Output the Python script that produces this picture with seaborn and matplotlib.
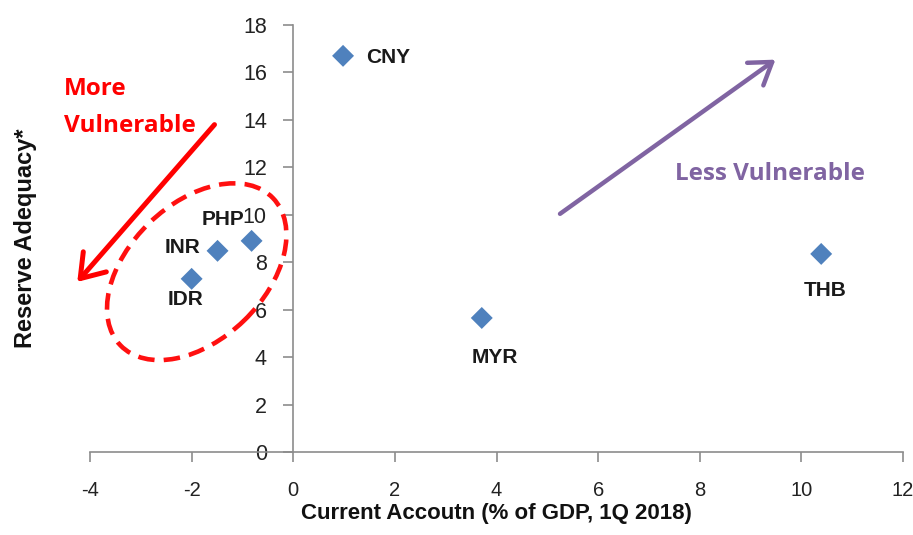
import matplotlib
matplotlib.use("Agg")
import matplotlib.pyplot as plt
import pandas as pd
import seaborn as sns
from matplotlib.patches import Ellipse
from matplotlib.transforms import IdentityTransform, ScaledTranslation

# Current account balance vs. reserve adequacy by currency
currencies = ["CNY", "PHP", "INR", "IDR", "MYR", "THB"]
current_account = [0.98, -0.82, -1.49, -2.0, 3.71, 10.39]
reserve_adequacy = [16.7, 8.9, 8.48, 7.3, 5.65, 8.35]

x_ticks = [-4, -2, 0, 2, 4, 6, 8, 10, 12]
y_ticks = [0, 2, 4, 6, 8, 10, 12, 14, 16, 18]

x_title = "Current Accoutn (% of GDP, 1Q 2018)"
y_title = "Reserve Adequacy*"

# label placement around each marker: (dx px, dy px, horizontal alignment)
label_offsets = {
    "CNY": (23, -2, "left"),
    "PHP": (-29, 21, "center"),
    "INR": (-17, 3, "right"),
    "IDR": (-6, -21, "center"),
    "MYR": (13, -40, "center"),
    "THB": (4, -37, "center"),
}

sns.set_theme(style="white")
plt.rcParams["font.family"] = ["Liberation Sans", "DejaVu Sans"]
plt.rcParams["axes.unicode_minus"] = False

W, H = 913, 535
fig = plt.figure(figsize=(W / 100, H / 100), dpi=100)
ax = fig.add_axes([90 / W, 1 - 452 / H, 813 / W, 427 / H])

df = pd.DataFrame({"currency": currencies,
                   "ca": current_account,
                   "ra": reserve_adequacy})
sns.scatterplot(data=df, x="ca", y="ra", marker="D", s=125,
                color="#4F81BD", edgecolor="none", legend=False, ax=ax,
                zorder=3)

ax.set_xlim(-4, 12)
ax.set_ylim(0, 18)
ax.set_xticks(x_ticks)
ax.set_yticks(y_ticks)

for side in ["top", "right"]:
    ax.spines[side].set_visible(False)
ax.spines["left"].set_position(("data", 0))
for side in ["left", "bottom"]:
    ax.spines[side].set_color("#8c8c8c")
    ax.spines[side].set_linewidth(1.2)

ax.tick_params(axis="both", direction="out", length=7, width=1.2,
               color="#8c8c8c", labelcolor="#222222", left=True, bottom=True)
ax.tick_params(axis="x", labelsize=14.5, pad=14)
ax.tick_params(axis="y", labelsize=15.5, pad=12)

narrow = ["Liberation Sans Narrow", "Liberation Sans", "DejaVu Sans"]
ax.set_xlabel(x_title, fontsize=16, fontweight="bold", family=narrow,
              color="#111111")
ax.xaxis.set_label_coords(0.5, (452 - 503) / 427)
ax.set_ylabel(y_title, fontsize=17, fontweight="bold", color="#111111")
ax.yaxis.set_label_coords((37 - 90) / 813, 0.5)

# currency labels
for name, x, y in zip(currencies, current_account, reserve_adequacy):
    dx, dy, ha = label_offsets[name]
    ax.annotate(name, (x, y), xytext=(dx, dy), textcoords="offset pixels",
                ha=ha, va="center", fontsize=15, fontweight="bold",
                color="#1a1a1a", zorder=4)

# dashed ring around the deficit currencies (size given in pixels)
ring = Ellipse((0, 0), width=212, height=136, angle=44, fill=False,
               edgecolor="#FF1010", lw=3.3, linestyle=(0, (3.6, 2)),
               transform=IdentityTransform() + ScaledTranslation(-1.9, 7.6, ax.transData),
               clip_on=False, zorder=2)
ax.add_patch(ring)

# direction arrows
ax.annotate("", xy=(-4.25, 7.17), xytext=(-1.55, 13.8),
            arrowprops=dict(arrowstyle="->,head_length=0.8,head_width=0.55",
                            color="#FF0000", lw=3.6, shrinkA=0, shrinkB=0,
                            mutation_scale=20),
            annotation_clip=False)
ax.annotate("", xy=(9.49, 16.54), xytext=(5.25, 10.04),
            arrowprops=dict(arrowstyle="->,head_length=0.75,head_width=0.5",
                            color="#8064A2", lw=3.2, shrinkA=0, shrinkB=0,
                            mutation_scale=20),
            annotation_clip=False)

callout = dict(fontsize=17.5, fontweight="bold", family=["Open Sans", "DejaVu Sans"],
               va="baseline", ha="left")
fig.text(64 / W, 1 - 95 / H, "More", color="#FF0000", **callout)
fig.text(64 / W, 1 - 132 / H, "Vulnerable", color="#FF0000", **callout)
fig.text(675 / W, 1 - 180 / H, "Less Vulnerable", color="#8064A2", **callout)

fig.savefig("out.png", dpi=100)
